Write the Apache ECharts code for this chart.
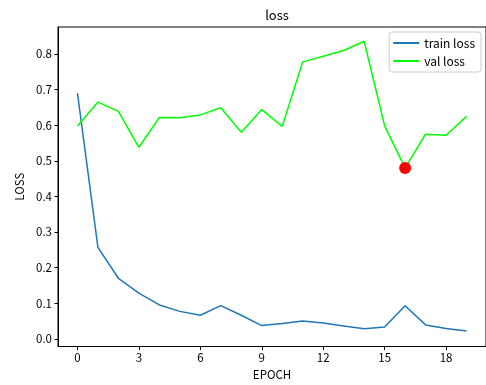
<!DOCTYPE html>
<html><head><meta charset="utf-8">
<script src="https://cdn.jsdelivr.net/npm/echarts@6/dist/echarts.min.js"></script>
<style>html,body{margin:0;padding:0;background:#fff}#c{width:486px;height:385px}</style>
</head><body><div id="c"></div>
<script>
const epochs = [0,1,2,3,4,5,6,7,8,9,10,11,12,13,14,15,16,17,18,19];
const trainLoss = [0.69,0.257,0.170,0.128,0.095,0.077,0.066,0.093,0.066,0.037,0.043,0.050,0.044,0.036,0.028,0.033,0.093,0.039,0.029,0.022];
const valLoss = [0.598,0.665,0.639,0.538,0.622,0.621,0.629,0.649,0.580,0.644,0.597,0.778,0.794,0.810,0.836,0.598,0.480,0.575,0.572,0.625];
const bestPoint = [[16,0.480]];
const xTicks = [0,3,6,9,12,15,18];
const yTicks = [0.0,0.1,0.2,0.3,0.4,0.5,0.6,0.7,0.8];

const font = "'Noto Sans CJK JP', sans-serif";
const chart = echarts.init(document.getElementById('c'));
chart.setOption({
  animation:false,
  title:{text:'loss',left:272,textAlign:'center',top:4,textStyle:{fontFamily:font,fontSize:13,fontWeight:'normal',color:'#000'}},
  legend:{data:['train loss','val loss'],orient:'vertical',right:5,top:32,icon:'rect',itemWidth:26,itemHeight:2,itemGap:6,
    borderColor:'#ccc',borderWidth:1,borderRadius:3,padding:[5,6,5,4],backgroundColor:'#fff',
    textStyle:{fontFamily:font,fontSize:12,color:'#000'}},
  grid:{left:58,right:-1,top:27,bottom:38,show:true,borderColor:'#000',borderWidth:1},
  xAxis:{type:'value',min:-0.95,max:19.95,name:'EPOCH',nameLocation:'middle',nameGap:22,
    nameTextStyle:{fontFamily:font,fontSize:11.5,color:'#000'},
    axisLine:{show:true,onZero:false,lineStyle:{color:'#000'}},splitLine:{show:false},
    axisTick:{show:true,length:3.5,customValues:xTicks,lineStyle:{color:'#000'}},
    axisLabel:{customValues:xTicks,fontFamily:font,fontSize:11.5,color:'#000',margin:5}},
  yAxis:{type:'value',min:-0.0217,max:0.876,name:'LOSS',nameLocation:'middle',nameGap:33,
    nameTextStyle:{fontFamily:font,fontSize:11.5,color:'#000'},
    axisLine:{show:true,onZero:false,lineStyle:{color:'#000'}},splitLine:{show:false},
    axisTick:{show:true,length:3.5,customValues:yTicks,lineStyle:{color:'#000'}},
    axisLabel:{customValues:yTicks,fontFamily:font,fontSize:11.5,color:'#000',margin:6,formatter:v=>v.toFixed(1)}},
  series:[
    {name:'train loss',type:'line',data:epochs.map((e,i)=>[e,trainLoss[i]]),showSymbol:false,symbol:'none',
      lineStyle:{color:'#1f77b4',width:1.5},itemStyle:{color:'#1f77b4'}},
    {name:'val loss',type:'line',data:epochs.map((e,i)=>[e,valLoss[i]]),showSymbol:false,symbol:'none',
      lineStyle:{color:'#00ff00',width:1.5},itemStyle:{color:'#00ff00'}},
    {name:'best',type:'scatter',data:bestPoint,symbolSize:12,itemStyle:{color:'#ff0000',opacity:1},z:5}
  ]
});
</script></body></html>
